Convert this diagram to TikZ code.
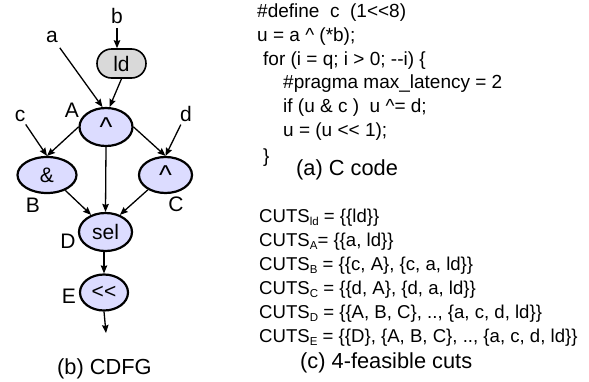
\documentclass[tikz,border=0pt]{standalone}
\usepackage{fontspec}
\setmainfont{Liberation Sans}[Ligatures=NoCommon]
\usetikzlibrary{arrows.meta,shapes.geometric,shapes.misc}
\definecolor{opfill}{RGB}{220,220,255}
\definecolor{ldfill}{RGB}{217,217,217}
\newcommand\subtxt[1]{\raisebox{-2.5pt}{\fontsize{11.5}{11.5}\selectfont #1}}
\newcommand\bigcaret{\raisebox{-4pt}{\scalebox{1.3}{\textasciicircum}}}
\tikzset{
  op/.style={ellipse, draw=black, line width=2.2pt, fill=opfill, inner sep=0pt,
    font=\fontsize{21}{21}\selectfont},
  ldbox/.style={rounded rectangle, draw=black, line width=1.6pt, fill=ldfill, inner sep=0pt,
    minimum width=49pt, minimum height=29pt, font=\fontsize{21}{21}\selectfont},
  lbl/.style={inner sep=0pt, font=\fontsize{21}{21}\selectfont},
  codeline/.style={anchor=base west, inner sep=0pt, font=\fontsize{19}{19}\selectfont},
  cutline/.style={anchor=base west, inner sep=0pt, font=\fontsize{18.6}{18.6}\selectfont},
  capt/.style={anchor=base west, inner sep=0pt, font=\fontsize{21.8}{21.8}\selectfont},
  edge/.style={line width=1.3pt, -{Stealth[length=8pt,width=6.5pt,inset=1pt]}}
}
\begin{document}
\begin{tikzpicture}[x=1pt,y=-1pt]
\useasboundingbox (0,0) rectangle (589,381);
% CDFG nodes
\node[ldbox] (ld) at (121.5,63.5) {ld};
\node[op, minimum width=53pt, minimum height=38pt] (A) at (106,127) {\bigcaret};
\node[op, minimum width=59pt, minimum height=36pt] (B) at (47,175) {\&};
\node[op, minimum width=53pt, minimum height=36pt] (C) at (165.5,175) {\bigcaret};
\node[op, minimum width=53pt, minimum height=38pt] (D) at (105.5,232) {sel};
\node[op, minimum width=48pt, minimum height=36pt] (E) at (104,292.5) {<{}<};
% labels
\node[lbl] (b) at (117,16) {b};
\node[lbl] (a) at (52,37) {a};
\node[lbl] (c) at (20,116) {c};
\node[lbl] (d) at (186,114) {d};
\node[lbl] (lA) at (72,110) {A};
\node[lbl] (lB) at (33,205) {B};
\node[lbl] (lC) at (176,204) {C};
\node[lbl] (lD) at (68,241) {D};
\node[lbl] (lE) at (69,296) {E};
\coordinate (out) at (106,333);
% edges
\draw[edge, shorten <=4pt] (b) -- (b |- ld.north);
\draw[edge, shorten <=6pt] (a) -- (A.100);
\draw[edge] (ld.south) -- (A.80);
\draw[edge, shorten <=3pt] (c) -- (B.north);
\draw[edge] (A.west) -- (B.north);
\draw[edge, shorten <=3pt] (d) -- (C.north);
\draw[edge] (A.east) -- (C.north);
\draw[edge] (A.south) -- (D.north);
\draw[edge] (B.-40) -- (D.130);
\draw[edge] (C.-140) -- (D.50);
\draw[edge] (D.south -| E.north) -- (E.north);
\draw[edge] (E.south) -- (out);
\node[capt] (capb) at (57,374) {(b) CDFG};
% code
\node[codeline] (l1) at (257,17.5) {\#define\ \ c\ \ (1<{}<8)};
\node[codeline] (l2) at (257,41.2) {u = a \textasciicircum{} (*b);};
\node[codeline] (l3) at (263,65) {for (i = q; i > 0; -{}-i) \{};
\node[codeline] (l4) at (283,88.7) {\#pragma max\_latency = 2};
\node[codeline] (l5) at (283,112.4) {if (u \& c )\ \ u \textasciicircum= d;};
\node[codeline] (l6) at (283,136) {u = (u <{}< 1);};
\node[codeline] (l7) at (263,162) {\}};
\node[capt] (capa) at (296,175) {(a) C code};
% cuts
\node[cutline] (k1) at (259,222.7) {CUTS\subtxt{ld} = \{\{ld\}\}};
\node[cutline] (k2) at (259,246.7) {CUTS\subtxt{A}= \{\{a, ld\}\}};
\node[cutline] (k3) at (259,270.7) {CUTS\subtxt{B} = \{\{c, A\}, \{c, a, ld\}\}};
\node[cutline] (k4) at (259,294.7) {CUTS\subtxt{C} = \{\{d, A\}, \{d, a, ld\}\}};
\node[cutline] (k5) at (259,318.7) {CUTS\subtxt{D} = \{\{A, B, C\}, .., \{a, c, d, ld\}\}};
\node[cutline] (k6) at (259,342.7) {CUTS\subtxt{E} = \{\{D\}, \{A, B, C\}, .., \{a, c, d, ld\}\}};
\node[capt] (capc) at (300,368) {(c) 4-feasible cuts};
\end{tikzpicture}
\end{document}
